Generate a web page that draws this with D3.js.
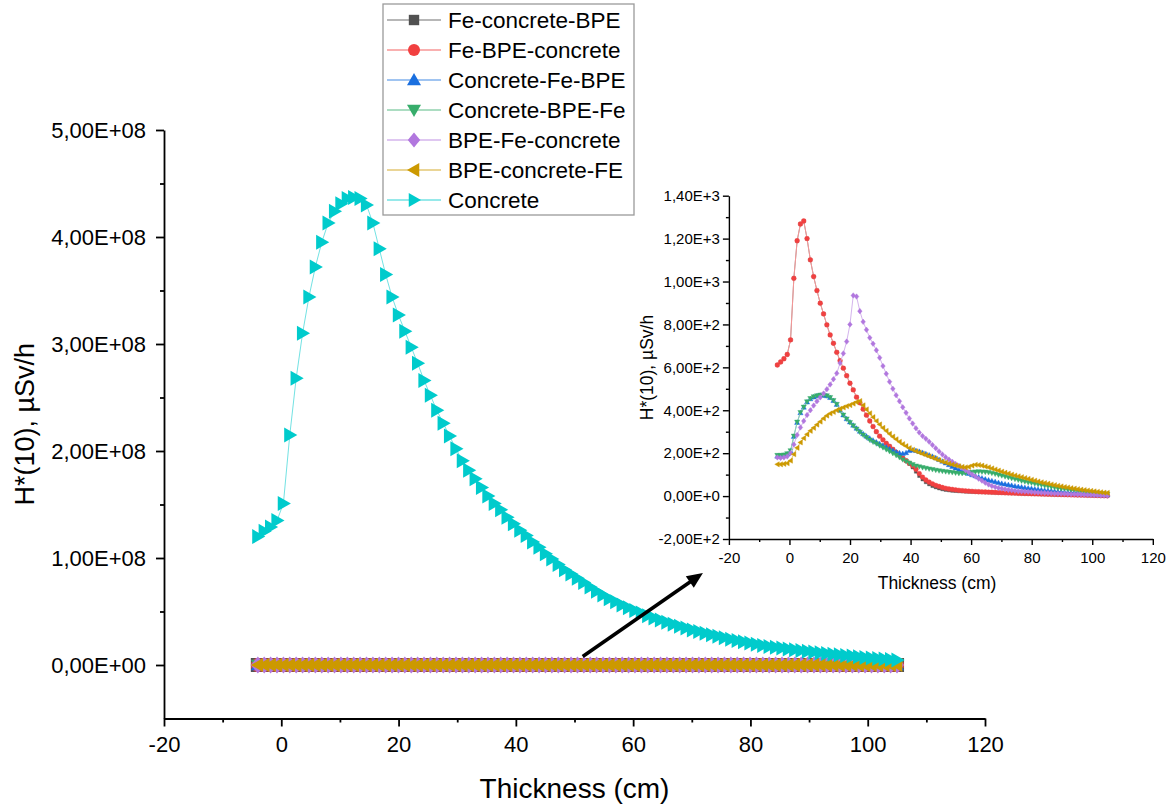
<!DOCTYPE html>
<html>
<head>
<meta charset="utf-8">
<script src="https://cdn.jsdelivr.net/npm/d3@7"></script>
<style>
  body { margin: 0; background: #fff; }
  text { font-family: "Liberation Sans", Arial, sans-serif; fill: #000; }
</style>
</head>
<body>
<svg id="chart" width="1172" height="805"></svg>
<script>
// Shield thickness (cm) at which H*(10) was evaluated
const thickness = [
  -4.00, -2.91, -1.82, -0.73, 0.36, 1.45, 2.54, 3.63, 4.72, 5.81,
  6.90, 7.99, 9.08, 10.17, 11.26, 12.35, 13.44, 14.53, 15.62, 16.71,
  17.80, 18.89, 19.98, 21.07, 22.16, 23.25, 24.34, 25.43, 26.52, 27.61,
  28.70, 29.79, 30.88, 31.97, 33.06, 34.15, 35.24, 36.33, 37.42, 38.51,
  39.60, 40.69, 41.78, 42.87, 43.96, 45.05, 46.14, 47.23, 48.32, 49.41,
  50.50, 51.59, 52.68, 53.77, 54.86, 55.95, 57.04, 58.13, 59.22, 60.31,
  61.40, 62.49, 63.58, 64.67, 65.76, 66.85, 67.94, 69.03, 70.12, 71.21,
  72.30, 73.39, 74.48, 75.57, 76.66, 77.75, 78.84, 79.93, 81.02, 82.11,
  83.20, 84.29, 85.38, 86.47, 87.56, 88.65, 89.74, 90.83, 91.92, 93.01,
  94.10, 95.19, 96.28, 97.37, 98.46, 99.55, 100.64, 101.73, 102.82, 103.91,
  105.00
];

// H*(10) in µSv/h for the layered shields
const feConcreteBpe = [
  611, 625, 640, 660, 728, 1015, 1190, 1268, 1282, 1200,
  1101, 1023, 958, 899, 849, 798, 751, 712, 670, 631,
  596, 561, 526, 495, 461, 435, 405, 377, 350, 324,
  300, 279, 262, 246, 232, 218, 204, 190, 177, 165,
  150, 134, 114, 94, 78, 65, 55, 47, 41, 36,
  32, 29, 27, 25, 24, 23, 22, 21, 20.5, 20,
  19.5, 19.0, 18.4, 17.8, 17.2, 16.6, 16, 15.4, 14.8, 14.2,
  13.6, 13, 12.5, 12, 11.5, 11, 10.5, 10, 9.5, 9,
  8.6, 8.2, 7.8, 7.4, 7, 6.6, 6.2, 5.8, 5.4, 5,
  4.6, 4.2, 3.8, 3.4, 3, 2.6, 2.2, 1.8, 1.5, 1.2,
  1.0
];
const feBpeConcrete = [
  611, 625, 640, 660, 728, 1015, 1190, 1268, 1282, 1200,
  1101, 1023, 958, 899, 849, 798, 751, 712, 670, 631,
  596, 561, 526, 495, 461, 435, 405, 377, 350, 324,
  300, 279, 262, 246, 232, 218, 204, 190, 177, 165,
  153, 141, 125, 105, 88, 75, 65, 57, 50, 45,
  40, 36, 33, 31, 29, 27, 25.5, 24, 23, 22,
  21, 20.3, 19.6, 19, 18.4, 17.8, 17.2, 16.6, 16, 15.4,
  14.8, 14.2, 13.6, 13, 12.5, 12, 11.5, 11, 10.5, 10,
  9.5, 9, 8.6, 8.2, 7.8, 7.4, 7, 6.6, 6.2, 5.8,
  5.4, 5, 4.6, 4.2, 3.8, 3.4, 3, 2.6, 2.2, 1.8,
  1.5
];
const concreteFeBpe = [
  186, 187, 190, 196, 210, 278, 343, 388, 414, 438,
  453, 462, 467, 470, 470, 467, 459, 445, 427, 400,
  378, 360, 345, 330, 316, 302, 290, 279, 269, 260,
  252, 244, 236, 228, 220, 213, 206, 201, 198, 202,
  212, 214, 212, 208, 203, 197, 191, 185, 178, 170,
  162, 154, 146, 138, 131, 124, 117, 111, 105, 99,
  94, 89, 84, 79, 75, 71, 67, 63, 59, 56,
  53, 50, 47, 44, 42, 39, 37, 35, 33, 31,
  29, 27, 25.5, 24, 22.5, 21, 19.5, 18, 17, 16,
  15, 14, 13, 12, 11, 10, 9, 8, 7, 6.5,
  6
];
const concreteBpeFe = [
  190, 190, 192, 198, 212, 280, 345, 390, 415, 440,
  455, 463, 468, 471, 471, 468, 460, 446, 428, 400,
  378, 360, 343, 328, 313, 298, 285, 273, 262, 252,
  244, 235, 226, 217, 208, 199, 190, 180, 170, 162,
  154, 147, 141, 137, 133, 130, 127, 124, 121, 118,
  116, 114, 112, 110, 108, 106, 106, 107, 109, 111,
  113, 114, 113, 112, 110, 107, 103, 99, 95, 91,
  87, 83, 79, 75, 71, 67, 64, 61, 58, 55,
  52, 49, 46, 43, 40, 37, 35, 33, 31, 28,
  26, 24, 22, 20, 18, 16, 15, 13, 12, 10,
  9
];
const bpeFeConcrete = [
  180, 178, 180, 185, 200, 240, 285, 320, 350, 378,
  400, 422, 442, 460, 478, 498, 520, 545, 572, 620,
  665, 720, 800, 935, 930, 862, 812, 775, 738, 710,
  680, 645, 606, 570, 533, 500, 470, 442, 414, 388,
  362, 338, 316, 296, 280, 267, 253, 238, 223, 208,
  194, 181, 170, 160, 150, 141, 131, 121, 111, 101,
  91, 81, 72, 62, 54, 47, 42, 38, 35, 32,
  29, 27, 25, 23, 22, 21, 20, 19, 18, 17,
  16, 15, 14, 13, 12, 11.5, 11, 10.5, 10, 9,
  8.5, 8, 7, 6.5, 6, 5, 4.5, 4, 3, 2.5,
  2
];
const bpeConcreteFe = [
  148, 148, 150, 153, 165, 195, 225, 250, 270, 288,
  304, 318, 333, 347, 362, 375, 385, 392, 400, 407,
  413, 419, 424, 431, 438, 443, 423, 404, 386, 368,
  350, 334, 318, 304, 290, 277, 265, 253, 242, 233,
  224, 216, 209, 203, 197, 191, 185, 179, 173, 167,
  161, 156, 151, 147, 143, 139, 136, 134, 136, 142,
  146, 145, 142, 138, 134, 129, 124, 119, 114, 109,
  105, 100, 96, 92, 88, 84, 80, 76, 72, 68,
  64, 61, 58, 54, 51, 48, 45, 42, 40, 37,
  35, 32, 30, 28, 26, 24, 22, 20, 18, 16,
  15
];
// H*(10) for plain concrete, in units of 1E+08 µSv/h
const concreteE8 = [
  1.20, 1.25, 1.29, 1.35, 1.51, 2.15, 2.68, 3.10, 3.44, 3.72,
  3.95, 4.13, 4.24, 4.31, 4.36, 4.37, 4.36, 4.30, 4.13, 3.89,
  3.65, 3.44, 3.27, 3.12, 2.97, 2.82, 2.66, 2.52, 2.38, 2.26,
  2.14, 2.02, 1.91, 1.82, 1.74, 1.66, 1.58, 1.51, 1.45, 1.38,
  1.32, 1.26, 1.21, 1.15, 1.10, 1.04, 0.99, 0.94, 0.89, 0.85,
  0.81, 0.77, 0.73, 0.69, 0.655, 0.62, 0.59, 0.56, 0.535, 0.51,
  0.485, 0.46, 0.44, 0.42, 0.40, 0.38, 0.362, 0.345, 0.327, 0.312,
  0.297, 0.283, 0.268, 0.254, 0.241, 0.229, 0.217, 0.205, 0.193, 0.183,
  0.174, 0.166, 0.158, 0.150, 0.143, 0.136, 0.129, 0.122, 0.115, 0.108,
  0.101, 0.095, 0.089, 0.083, 0.077, 0.071, 0.066, 0.061, 0.056, 0.051,
  0.047
];

const seriesNames = [
  "Fe-concrete-BPE", "Fe-BPE-concrete", "Concrete-Fe-BPE", "Concrete-BPE-Fe",
  "BPE-Fe-concrete", "BPE-concrete-FE", "Concrete"
];
const seriesColors = ["#515151", "#F14040", "#1A6FDF", "#37AD6B", "#B177DE", "#CC9900", "#00CBCC"];
const seriesSymbols = ["square", "circle", "up", "down", "diamond", "left", "right"];

// Tick values and their labels
const xTicks = [-20, 0, 20, 40, 60, 80, 100, 120];
const xTickLabels = ["-20", "0", "20", "40", "60", "80", "100", "120"];
const xMinorTicks = [-10, 10, 30, 50, 70, 90, 110];
const mainYTicks = [0, 1, 2, 3, 4, 5];
const mainYTickLabels = ["0,00E+00", "1,00E+08", "2,00E+08", "3,00E+08", "4,00E+08", "5,00E+08"];
const mainYMinorTicks = [0.5, 1.5, 2.5, 3.5, 4.5];
const insetYTicks = [-200, 0, 200, 400, 600, 800, 1000, 1200, 1400];
const insetYTickLabels = ["-2,00E+2", "0,00E+0", "2,00E+2", "4,00E+2", "6,00E+2", "8,00E+2", "1,00E+3", "1,20E+3", "1,40E+3"];
const insetYMinorTicks = [-100, 100, 300, 500, 700, 900, 1100, 1300];

const layered = [feConcreteBpe, feBpeConcrete, concreteFeBpe, concreteBpeFe, bpeFeConcrete, bpeConcreteFe];

// Connecting lines use a pale tint of each series colour
const lineTint = c => d3.interpolateRgb(c, "#ffffff")(0.45);

// Marker shapes centred on the origin
const markerPath = {
  square: r => `M${-r},${-r}H${r}V${r}H${-r}Z`,
  circle: r => `M${-r},0A${r},${r} 0 1,0 ${r},0A${r},${r} 0 1,0 ${-r},0Z`,
  up: r => `M0,${-r}L${r},${r * 0.75}L${-r},${r * 0.75}Z`,
  down: r => `M0,${r}L${r},${-r * 0.75}L${-r},${-r * 0.75}Z`,
  diamond: r => `M0,${-r * 1.2}L${r},0L0,${r * 1.2}L${-r},0Z`,
  left: r => `M${-r},0L${r * 0.75},${-r}L${r * 0.75},${r}Z`,
  right: r => `M${r},0L${-r * 0.75},${-r}L${-r * 0.75},${r}Z`
};

const W = 1172, H = 805;
const svg = d3.select("#chart");
svg.append("rect").attr("width", W).attr("height", H).attr("fill", "#fff");

function styleAxis(g, fontSize, width) {
  g.select(".domain").attr("stroke", "#000").attr("stroke-width", width);
  g.selectAll(".tick line").attr("stroke", "#000").attr("stroke-width", width);
  g.selectAll(".tick text").attr("font-size", fontSize)
    .attr("font-family", '"Liberation Sans", Arial, sans-serif').attr("fill", "#000");
}

function drawAxes(g, x, y, o) {
  const gx = g.append("g").attr("transform", `translate(0,${y.range()[0]})`)
    .call(d3.axisBottom(x).tickValues(xTicks).tickFormat((d, i) => xTickLabels[i])
      .tickSize(o.tick).tickPadding(o.xPad).tickSizeOuter(0));
  styleAxis(gx, o.font, o.lw);
  const gxm = g.append("g").attr("transform", `translate(0,${y.range()[0]})`)
    .call(d3.axisBottom(x).tickValues(xMinorTicks).tickFormat("").tickSize(o.minor).tickSizeOuter(0));
  styleAxis(gxm, o.font, o.lw);
  gxm.select(".domain").remove();

  const gy = g.append("g").attr("transform", `translate(${x.range()[0]},0)`)
    .call(d3.axisLeft(y).tickValues(o.yTicks).tickFormat((d, i) => o.yLabels[i])
      .tickSize(o.tick).tickPadding(o.yPad).tickSizeOuter(0));
  styleAxis(gy, o.font, o.lw);
  const gym = g.append("g").attr("transform", `translate(${x.range()[0]},0)`)
    .call(d3.axisLeft(y).tickValues(o.yMinor).tickFormat("").tickSize(o.minor).tickSizeOuter(0));
  styleAxis(gym, o.font, o.lw);
  gym.select(".domain").remove();
}

function drawSeries(g, x, y, values, i, r, outline) {
  const pts = thickness.map((t, k) => [t, values[k]]);
  g.append("path")
    .attr("d", d3.line().x(d => x(d[0])).y(d => y(d[1]))(pts))
    .attr("fill", "none").attr("stroke", lineTint(seriesColors[i]))
    .attr("stroke-width", 1);
  g.append("g").selectAll("path").data(pts).join("path")
    .attr("transform", d => `translate(${x(d[0])},${y(d[1])})`)
    .attr("d", markerPath[seriesSymbols[i]](r))
    .attr("fill", seriesColors[i])
    .attr("stroke", outline ? seriesColors[i] : "none")
    .attr("stroke-opacity", 0.4).attr("stroke-width", 1);
}

// ---------- main chart ----------
const mx = d3.scaleLinear().domain([-20, 120]).range([164, 985]);
const my = d3.scaleLinear().domain([-0.5, 5]).range([718.5, 130]);
const main = svg.append("g");
drawAxes(main, mx, my, {
  tick: 8, minor: 4, xPad: 10, yPad: 10, font: 22, lw: 1.8,
  yTicks: mainYTicks, yLabels: mainYTickLabels, yMinor: mainYMinorTicks
});
main.append("text").attr("x", (mx.range()[0] + mx.range()[1]) / 2).attr("y", 798)
  .attr("text-anchor", "middle").attr("font-size", 28).text("Thickness (cm)");
main.append("text").attr("transform", `translate(34,${(my.range()[0] + my.range()[1]) / 2}) rotate(-90)`)
  .attr("text-anchor", "middle").attr("font-size", 27).text("H*(10), µSv/h");

const mainMarks = main.append("g");
layered.forEach((vals, i) => {
  drawSeries(mainMarks, mx, my, vals.map(v => v / 1e8), i, 7, false);
});
drawSeries(mainMarks, mx, my, concreteE8, 6, 7.5, false);

// Arrow pointing from the flattened curves to the zoomed view
const arrowFrom = [51.4, 0.08], arrowTo = [71.9, 0.86];
{
  const x0 = mx(arrowFrom[0]), y0 = my(arrowFrom[1]);
  const x1 = mx(arrowTo[0]), y1 = my(arrowTo[1]);
  const a = Math.atan2(y1 - y0, x1 - x0);
  const headLen = 16, headHalf = 7;
  const bx = x1 - headLen * Math.cos(a), by = y1 - headLen * Math.sin(a);
  main.append("line").attr("x1", x0).attr("y1", y0).attr("x2", bx + 2 * Math.cos(a)).attr("y2", by + 2 * Math.sin(a))
    .attr("stroke", "#000").attr("stroke-width", 3.6);
  main.append("path")
    .attr("d", `M${x1},${y1}L${bx - headHalf * Math.sin(a)},${by + headHalf * Math.cos(a)}L${bx + headHalf * Math.sin(a)},${by - headHalf * Math.cos(a)}Z`)
    .attr("fill", "#000");
}

// ---------- legend ----------
const legend = svg.append("g");
legend.append("rect").attr("x", 383).attr("y", 4).attr("width", 251).attr("height", 211)
  .attr("fill", "#fff").attr("stroke", "#9a9a9a").attr("stroke-width", 1.3);
const legendMarkerSize = [5.2, 6, 7, 7, 6.2, 7, 7];
seriesNames.forEach((name, i) => {
  const yy = 20 + 30 * i;
  legend.append("line").attr("x1", 387).attr("x2", 441).attr("y1", yy).attr("y2", yy)
    .attr("stroke", lineTint(seriesColors[i])).attr("stroke-width", 1.5);
  legend.append("path").attr("transform", `translate(414,${yy})`)
    .attr("d", markerPath[seriesSymbols[i]](legendMarkerSize[i])).attr("fill", seriesColors[i]);
  legend.append("text").attr("x", 448).attr("y", yy).attr("dy", "0.36em")
    .attr("font-size", 22.5).text(name);
});

// ---------- inset ----------
const ix = d3.scaleLinear().domain([-20, 120]).range([728.9, 1152.8]);
const iy = d3.scaleLinear().domain([-200, 1400]).range([539, 195.7]);
const inset = svg.append("g");
drawAxes(inset, ix, iy, {
  tick: 6, minor: 3, xPad: 7.5, yPad: 3, font: 15, lw: 1.4,
  yTicks: insetYTicks, yLabels: insetYTickLabels, yMinor: insetYMinorTicks
});
inset.append("text").attr("x", 937).attr("y", 589)
  .attr("text-anchor", "middle").attr("font-size", 17.5).text("Thickness (cm)");
inset.append("text").attr("transform", `translate(653,367.5) rotate(-90)`)
  .attr("text-anchor", "middle").attr("font-size", 17.5).text("H*(10), µSv/h");
const insetMarks = inset.append("g");
const insetMarkerSize = [1.6, 2.4, 2.6, 2.6, 2.3, 2.6];
layered.forEach((vals, i) => {
  drawSeries(insetMarks, ix, iy, vals, i, insetMarkerSize[i], true);
});
</script>
</body>
</html>
